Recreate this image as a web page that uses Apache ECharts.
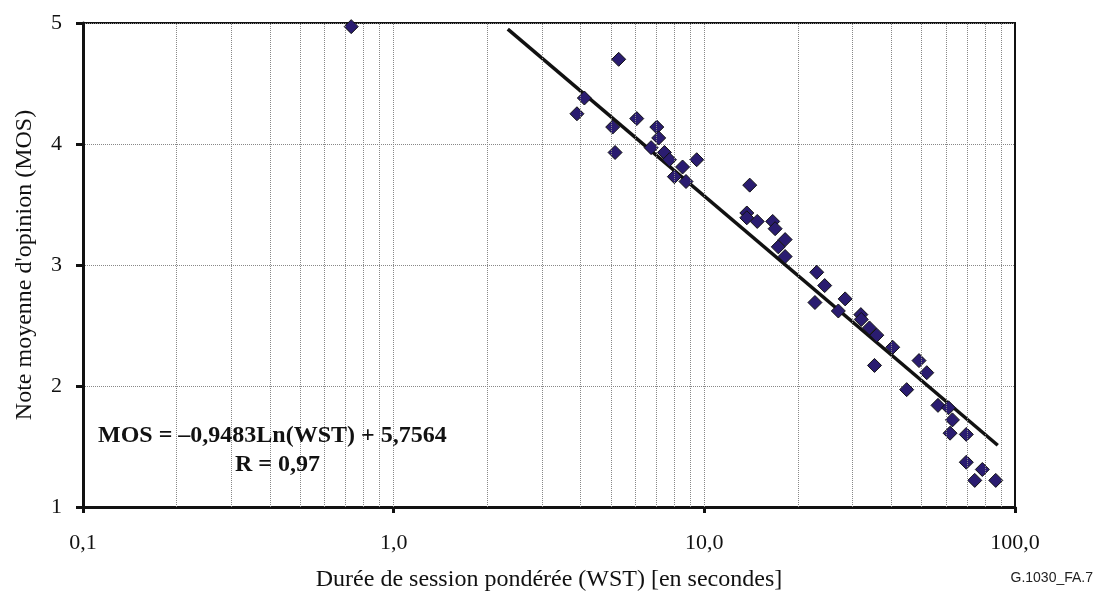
<!DOCTYPE html>
<html>
<head>
<meta charset="utf-8">
<script src="https://cdn.jsdelivr.net/npm/echarts@6/dist/echarts.min.js"></script>
<style>
  html, body { margin: 0; padding: 0; background: #fff; }
  #main { width: 1103px; height: 597px; }
</style>
</head>
<body>
<div id="main"></div>
<script>
// durée de session pondérée (s) et MOS
var wst = [0.73, 3.89, 4.11, 5.07, 5.16, 5.30, 6.06, 6.74, 7.03, 7.13, 7.44, 7.72, 8.01, 8.51, 8.73, 9.45,
           13.7, 13.7, 14.0, 14.8, 16.6, 16.9, 17.3, 18.2, 18.2, 22.7, 23.0, 24.4, 27.0, 28.4,
           31.9, 32.0, 34.0, 35.3, 35.9, 40.4, 44.8, 49.1, 52.0, 56.5, 61.1, 61.8, 62.9, 69.7, 69.7,
           74.2, 78.5, 86.7];
var mos = [4.97, 4.25, 4.38, 4.14, 3.93, 4.70, 4.21, 3.97, 4.14, 4.05, 3.93, 3.87, 3.73, 3.81, 3.69, 3.87,
           3.43, 3.39, 3.66, 3.36, 3.36, 3.30, 3.15, 3.21, 3.07, 2.69, 2.94, 2.83, 2.62, 2.72,
           2.59, 2.55, 2.48, 2.17, 2.42, 2.32, 1.97, 2.21, 2.11, 1.84, 1.82, 1.61, 1.72, 1.60, 1.37,
           1.22, 1.31, 1.22];

// extrémités de la droite de tendance logarithmique
var trendX = [2.33, 88];
var trendY = [4.95, 1.51];

// lignes de quadrillage verticales (échelle log)
var gridX = [0.2, 0.3, 0.4, 0.5, 0.6, 0.7, 0.8, 0.9, 1,
             2, 3, 4, 5, 6, 7, 8, 9, 10,
             20, 30, 40, 50, 60, 70, 80, 90];

var equation = 'MOS = \u20130,9483Ln(WST) + 5,7564';
var rText = 'R = 0,97';

var serif = '"Liberation Serif", "Times New Roman", serif';

var chart = echarts.init(document.getElementById('main'));

var points = wst.map(function (x, i) { return [x, mos[i]]; });
var trend = trendX.map(function (x, i) { return [x, trendY[i]]; });

var option = {
    animation: false,
    grid: {
        left: 83, top: 23, right: 88, bottom: 90,
        show: true,
        borderColor: '#111',
        borderWidth: 2
    },
    xAxis: {
        type: 'log',
        logBase: 10,
        min: 0.1,
        max: 100,
        name: 'Durée de session pondérée (WST) [en secondes]',
        nameLocation: 'middle',
        nameGap: 61,
        nameTextStyle: { fontFamily: serif, fontSize: 24, color: '#111' },
        axisLine: { lineStyle: { color: '#111', width: 3 } },
        axisTick: { show: true, length: 6, lineStyle: { color: '#111', width: 3 } },
        axisLabel: {
            margin: 25,
            fontFamily: serif,
            fontSize: 22,
            color: '#111',
            formatter: function (v) { return v.toFixed(1).replace('.', ','); }
        },
        splitLine: { show: false },
        minorTick: { show: false },
        minorSplitLine: { show: false }
    },
    yAxis: {
        type: 'value',
        min: 1,
        max: 5,
        interval: 1,
        name: "Note moyenne d'opinion (MOS)",
        nameLocation: 'middle',
        nameGap: 46,
        nameTextStyle: { fontFamily: serif, fontSize: 24, color: '#111' },
        axisLine: { show: true, lineStyle: { color: '#111', width: 3 } },
        axisTick: { show: true, length: 7, lineStyle: { color: '#111', width: 3 } },
        axisLabel: { margin: 21, fontFamily: serif, fontSize: 22, color: '#111' },
        splitLine: { show: true, lineStyle: { type: 'dotted', color: '#888', width: 1 } }
    },
    graphic: [
        {
            type: 'text', left: 98, top: 424, z: 100,
            style: { text: equation, font: 'bold 24px ' + serif, fill: '#111' }
        },
        {
            type: 'text', left: 235, top: 453, z: 100,
            style: { text: rText, font: 'bold 24px ' + serif, fill: '#111' }
        },
        {
            type: 'text', right: 10, bottom: 12, z: 100,
            style: { text: 'G.1030_FA.7', font: '14px "Liberation Sans", Arial, sans-serif', fill: '#222' }
        }
    ],
    series: [
        {
            name: 'grille',
            type: 'line',
            data: [],
            z: 1,
            silent: true,
            markLine: {
                silent: true,
                symbol: ['none', 'none'],
                label: { show: false },
                lineStyle: { type: 'dotted', color: '#888', width: 1 },
                data: gridX.map(function (v) { return { xAxis: v }; })
            }
        },
        {
            name: 'Tendance',
            type: 'line',
            data: trend,
            z: 3,
            symbol: 'none',
            lineStyle: { color: '#111', width: 3.5 }
        },
        {
            name: 'MOS',
            type: 'scatter',
            data: points,
            z: 4,
            symbol: 'diamond',
            symbolSize: 14,
            itemStyle: { color: '#2a1c70', opacity: 1, borderColor: '#111', borderWidth: 1 }
        }
    ]
};

chart.setOption(option);

window.addEventListener('resize', function () {
    chart.resize();
});
</script>
</body>
</html>
